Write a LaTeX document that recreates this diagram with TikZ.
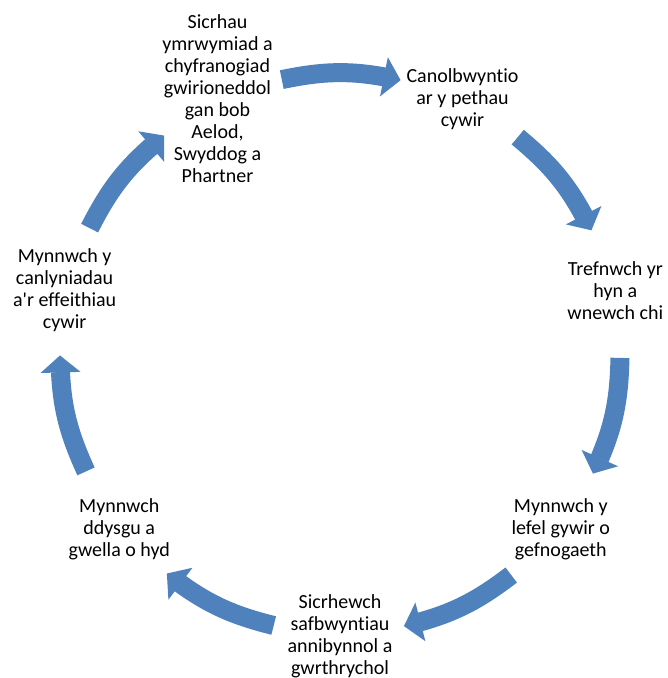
\documentclass[tikz,border=0pt]{standalone}
\usepackage{fontspec}
\setmainfont[Ligatures=NoCommon]{Carlito}
\usetikzlibrary{arrows.meta}
\usetikzlibrary{bending}
\definecolor{cycblue}{RGB}{79,129,189}
\tikzset{
    stepnode/.style = {align=center, inner sep=0pt, font=\fontsize{20}{22}\selectfont},
    cycarrow/.style = {-{Triangle[length=17pt,width=40pt,line width=0pt]},line width=19pt,draw=cycblue}, % block arrow
}

\begin{document}
\begin{tikzpicture}[x=1pt,y=1pt]
\useasboundingbox (-340,-324.5) rectangle (328,353.5);
\node[stepnode] at (115.7:282.5) (n1) {Sicrhau\\ymrwymiad a\\chyfranogiad\\gwirioneddol\\gan bob\\Aelod,\\Swyddog a\\Phartner};
\node[stepnode] at (64.3:282.5) (n2) {Canolbwyntio\\ar y pethau\\cywir};
\node[stepnode] at (12.9:282.5) (n3) {Trefnwch yr\\hyn a\\wnewch chi};
\node[stepnode] at (-38.6:282.5) (n4) {Mynnwch y\\lefel gywir o\\gefnogaeth};
\node[stepnode] at (-90:282.5) (n5) {Sicrhewch\\safbwyntiau\\annibynnol a\\gwrthrychol};
\node[stepnode] at (-141.4:282.5) (n6) {Mynnwch\\ddysgu a\\gwella o hyd};
\node[stepnode] at (167.1:282.5) (n7) {Mynnwch y\\canlyniadau\\a\textquotesingle r effeithiau\\cywir};
%
\coordinate (s1) at (102:280);   \coordinate (e1) at (77.5:280);
\coordinate (s2) at (50.6:280);  \coordinate (e2) at (26.1:280);
\coordinate (s3) at (-0.9:280);  \coordinate (e3) at (-25.4:280);
\coordinate (s4) at (-52.3:280); \coordinate (e4) at (-76.8:280);
\coordinate (s5) at (-103.7:280);\coordinate (e5) at (-128.2:280);
\coordinate (s6) at (-155.1:280);\coordinate (e6) at (-179.6:280);
\coordinate (s7) at (153.4:280); \coordinate (e7) at (128.9:280);
%
\draw[cycarrow] (s1) to[bend left=12] (e1);
\draw[cycarrow] (s2) to[bend left=12] (e2);
\draw[cycarrow] (s3) to[bend left=12] (e3);
\draw[cycarrow] (s4) to[bend left=12] (e4);
\draw[cycarrow] (s5) to[bend left=12] (e5);
\draw[cycarrow] (s6) to[bend left=12] (e6);
\draw[cycarrow] (s7) to[bend left=12] (e7);
\end{tikzpicture}
\end{document}
